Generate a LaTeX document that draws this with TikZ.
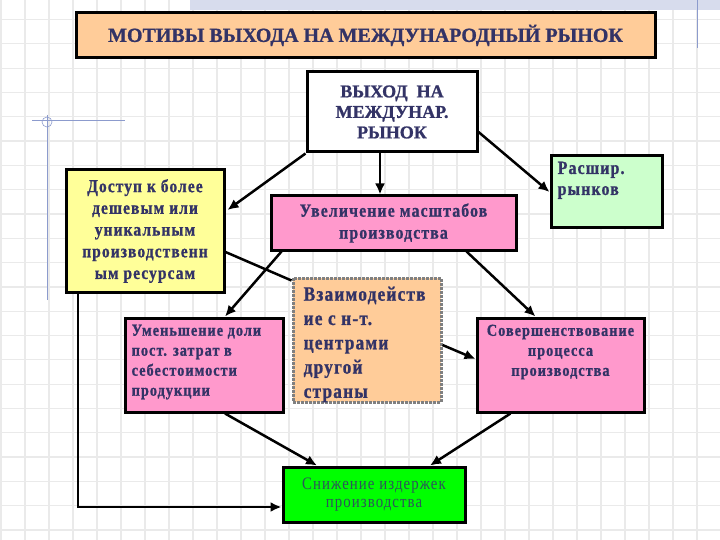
\documentclass[tikz,border=0pt]{standalone}
\usepackage{fontspec}
\setmainfont{Liberation Serif}[BoldFeatures={FakeBold=1}]
\usetikzlibrary{arrows.meta}
\definecolor{navy}{RGB}{51,51,102}
\definecolor{tealtext}{RGB}{45,85,90}
\definecolor{peach}{RGB}{255,204,153}
\definecolor{lightyellow}{RGB}{255,255,153}
\definecolor{rose}{RGB}{255,153,204}
\definecolor{mint}{RGB}{204,255,204}
\definecolor{brightgreen}{RGB}{0,255,0}
\definecolor{gridgray}{RGB}{234,234,234}
\definecolor{tmplblue}{RGB}{140,155,205}
\newfontfamily\narrow[LetterSpace=6,FakeStretch=0.85,BoldFeatures={FakeBold=1}]{Liberation Serif}
\tikzset{
  box/.style={draw, line width=3pt, text=navy, inner sep=0pt, align=center},
  boxtext/.style={text=navy, inner sep=0pt, align=left, anchor=north west},
  arr/.style={line width=2.5pt, -{Latex[length=11pt,width=10pt]}},
  link/.style={line width=2.5pt},
}
\begin{document}
\begin{tikzpicture}[x=1pt,y=-1pt]
    \useasboundingbox (0,0) rectangle (720,540);
    % background grid
    \foreach \x in {1,25,...,720} \draw[gridgray, line width=1.2pt] (\x,0) -- (\x,540);
    \foreach \y in {19.6,43.9,...,540} \draw[gridgray, line width=1.2pt] (0,\y) -- (720,\y);
    % slide template
    \fill[tmplblue!35] (190,0) rectangle (720,10);
    \draw[tmplblue, line width=0.8pt] (697,0) -- (697,48);
    \draw[tmplblue, line width=0.8pt] (32,120) -- (125,120);
    \draw[tmplblue, line width=0.8pt] (47,115) -- (47,300);
    \draw[tmplblue, line width=0.6pt] (47,122) circle (5);
    % boxes
    \node[box, fill=peach, minimum width=579pt, minimum height=45pt,
          font=\bfseries\fontsize{20}{22}\selectfont] (title) at (365.5,35.5)
          {МОТИВЫ ВЫХОДА НА МЕЖДУНАРОДНЫЙ РЫНОК};
    \node[box, fill=white, minimum width=170pt, minimum height=80pt,
          font=\bfseries\fontsize{18}{20.5}\selectfont] (entry) at (392,112)
          {ВЫХОД\ \ НА\\МЕЖДУНАР.\\РЫНОК};
    \node[box, fill=lightyellow, minimum width=158pt, minimum height=122pt,
          font=\narrow\bfseries\fontsize{18.2}{21.7}\selectfont] (access) at (145,231)
          {Доступ к более\\дешевым или\\уникальным\\производственн\\ым ресурсам};
    \node[box, fill=rose, minimum width=245pt, minimum height=54pt,
          font=\narrow\bfseries\fontsize{18.6}{22}\selectfont] (scale) at (393.5,223)
          {Увеличение масштабов\\производства};
    \node[box, fill=mint, minimum width=111pt, minimum height=72pt] (markets) at (606.5,192) {};
    \node[boxtext, font=\narrow\bfseries\fontsize{18.7}{21}\selectfont] (marketstext)
          at ([xshift=8pt,yshift=-7pt]markets.north west) {Расшир.\\рынков};
    \node[box, fill=rose, minimum width=158pt, minimum height=94pt] (fixed) at (204,365) {};
    \node[boxtext, font=\narrow\bfseries\fontsize{16.8}{20}\selectfont] (fixedtext)
          at ([xshift=8pt,yshift=-8pt]fixed.north west)
          {Уменьшение доли\\пост. затрат в\\себестоимости\\продукции};
    \node[box, fill=peach, draw=gray, densely dotted, minimum width=148pt, minimum height=124pt] (centers) at (367,340) {};
    \begin{scope}
      \clip ([xshift=1.5pt,yshift=1.5pt]centers.south west) rectangle ([xshift=-1.5pt,yshift=-1.5pt]centers.north east);
      \node[boxtext, font=\narrow\bfseries\fontsize{20.3}{24.3}\selectfont] (centerstext)
            at ([xshift=12pt,yshift=-10pt]centers.north west)
            {Взаимодейств\\ие с н-т.\\центрами\\другой\\страны};
    \end{scope}
    \node[box, fill=rose, minimum width=167pt, minimum height=94pt] (process) at (560.5,365) {};
    \node[text=navy, anchor=north, align=center, inner sep=0pt,
          font=\narrow\bfseries\fontsize{16.8}{20}\selectfont] (processtext)
          at ([yshift=-8pt]process.north)
          {Совершенствование\\процесса\\производства};
    \node[box, fill=brightgreen, text=tealtext, minimum width=182pt, minimum height=55pt,
          font=\narrow\fontsize{17.5}{18}\selectfont] (costs) at (374,494.5)
          {Снижение издержек\\производства};
    % connectors
    \draw[arr] (entry.south west) -- ([xshift=2pt,yshift=21pt]access.east);
    \draw[arr] ([xshift=-12pt]entry.south) -- ([xshift=-12pt]entry.south |- scale.north);
    \draw[arr] ([yshift=-20pt]entry.east) -- (markets.west);
    \draw[link] ([yshift=-21pt]access.east) -- ([yshift=-4pt]centers.north west);
    \draw[arr] ([xshift=12pt]scale.south west) -- ([xshift=21pt]fixed.north);
    \draw[arr] ([xshift=-51pt]scale.south east) -- ([xshift=-25pt]process.north);
    \draw[arr] ([yshift=-5pt]centers.east) -- ([yshift=6pt]process.west);
    \draw[arr] ([xshift=21pt]fixed.south) -- ([xshift=-57pt]costs.north);
    \draw[arr] ([xshift=-50pt]process.south) -- ([xshift=56pt]costs.north);
    \draw[arr] ([xshift=-67pt]access.south) |- ([yshift=-12.5pt]costs.west);
\end{tikzpicture}
\end{document}
